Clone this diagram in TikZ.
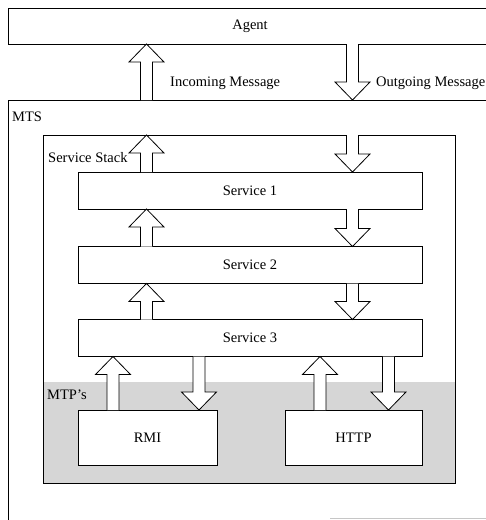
\documentclass[tikz,border=0pt]{standalone}
\usepackage{fontspec}
\setmainfont{Liberation Serif}
\newcommand\blkup[3]{% x, y tip, y bottom
  \path[blk] (#1-6,#3) -- (#1-6,#2+18) -- (#1-17.5,#2+18) -- (#1,#2) -- (#1+17.5,#2+18) -- (#1+6,#2+18) -- (#1+6,#3);}
\newcommand\blkdn[3]{% x, y top, y tip
  \path[blk] (#1-6,#2) -- (#1-6,#3-18) -- (#1-17.5,#3-18) -- (#1,#3) -- (#1+17.5,#3-18) -- (#1+6,#3-18) -- (#1+6,#2);}
\begin{document}
\begin{tikzpicture}[x=1pt,y=-1pt,
  every node/.style={font=\fontsize{14.5}{17}\selectfont},
  box/.style={draw=black,line width=0.8pt,fill=white,rectangle,inner sep=0pt},
  lbl/.style={anchor=west,inner sep=0pt},
  blk/.style={draw=black,fill=white,line width=0.8pt,line join=miter}]
\useasboundingbox (0,0) rectangle (486,520);
% MTS frame
\draw[line width=0.8pt] (495,100) -- (8,100) -- (8,525);
\draw[gray!45,line width=0.6pt] (330,518.5) -- (486,518.5);
\node[lbl] (mts) at (12,117) {MTS};
% Agent
\node[box,minimum width=486pt,minimum height=36pt] (agent) at (251,26) {};
\node (agentlbl) at (250,26) {Agent};
% Service stack
\fill[gray!32] (43,382) rectangle (455,483);
\draw[line width=0.8pt] (43,135) rectangle (455,483);
\node[lbl] (sslbl) at (48,158) {Service Stack};
\node[lbl] (mtplbl) at (47,395) {MTP's};
% Services
\node[box,minimum width=344pt,minimum height=37pt] (s1) at (250,190.5) {Service 1};
\node[box,minimum width=344pt,minimum height=37pt] (s2) at (250,265) {Service 2};
\node[box,minimum width=344pt,minimum height=37pt] (s3) at (250,338) {Service 3};
% MTPs
\node[box,minimum width=139pt,minimum height=55pt] (rmi) at (147.5,437.5) {RMI};
\node[box,minimum width=137pt,minimum height=55pt] (http) at (353.5,437.5) {HTTP};
% Message labels
\node[lbl] (inlbl) at (170,83) {Incoming Message};
\node[lbl] (outlbl) at (376,83) {Outgoing Message};
% Block arrows
\blkup{146.5}{44}{100}
\blkdn{352.5}{44}{100}
\blkup{146.5}{135}{172}
\blkdn{352.5}{135}{172}
\blkup{146.5}{209}{246.5}
\blkdn{352.5}{209}{246.5}
\blkup{146.5}{283.5}{319.5}
\blkdn{352.5}{283.5}{319.5}
\blkup{113}{356.5}{410}
\blkdn{199}{356.5}{410}
\blkup{320}{356.5}{410}
\blkdn{388.5}{356.5}{410}
\end{tikzpicture}
\end{document}
